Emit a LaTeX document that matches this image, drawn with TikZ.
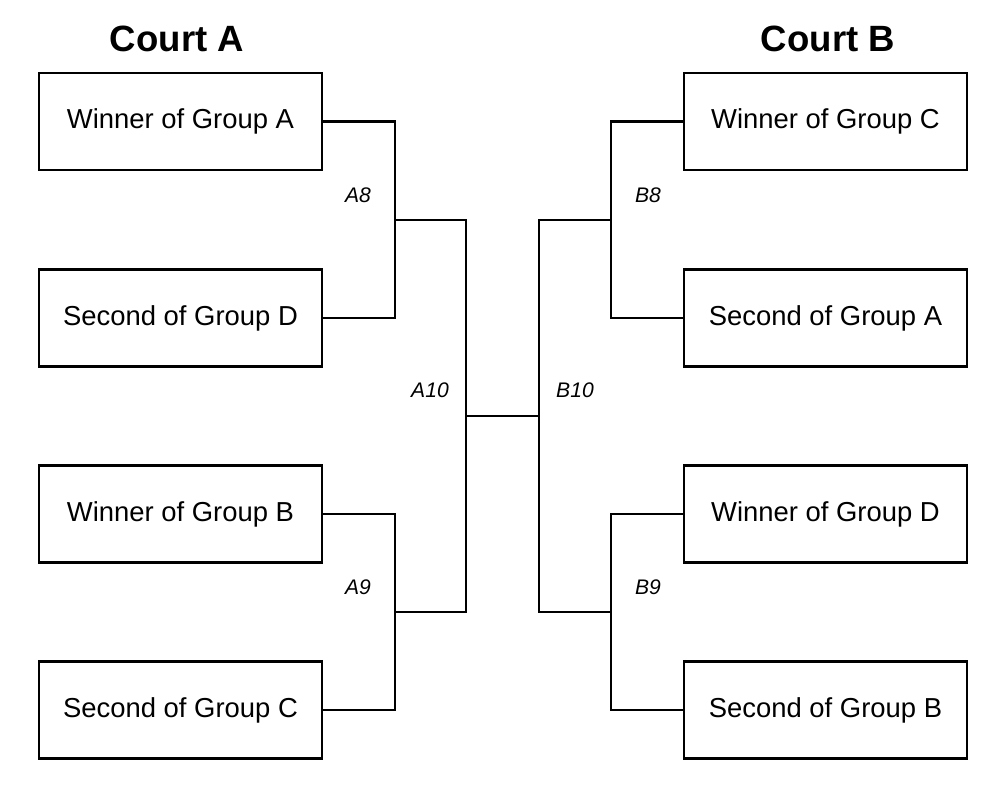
\documentclass[tikz,border=0pt]{standalone}
\usepackage{fontspec}
\setmainfont{Liberation Sans}
\usetikzlibrary{positioning}

\tikzset{
  team/.style={draw, line width=2pt, minimum width=7.075cm, minimum height=2.425cm,
    inner sep=0pt, font=\fontsize{19.5}{23}\selectfont},
  court/.style={font=\fontsize{26}{31}\selectfont\bfseries},
  match/.style={font=\fontsize{15}{18}\selectfont\itshape},
  wire/.style={line width=1.9pt}
}

\begin{document}
\begin{tikzpicture}[x=0.025cm, y=-0.025cm]
  \useasboundingbox (0,0) rectangle (1000,800);

  % headings
  \node[court] (ca) at (177,39) {Court A};
  \node[court] (cb) at (828,39) {Court B};

  % court A teams
  \node[team] (wa) at (180.5,121.5) {Winner of Group A};
  \node[team] (sd) at (180.5,318) {Second of Group D};
  \node[team] (wb) at (180.5,514) {Winner of Group B};
  \node[team] (sc) at (180.5,710) {Second of Group C};

  % court B teams
  \node[team] (wc) at (825.5,121.5) {Winner of Group C};
  \node[team] (sa) at (825.5,318) {Second of Group A};
  \node[team] (wd) at (825.5,514) {Winner of Group D};
  \node[team] (sb) at (825.5,710) {Second of Group B};

  % bracket joints
  \coordinate (a8) at (395,220);
  \coordinate (a9) at (395,612);
  \coordinate (a10) at (466,416);
  \coordinate (b8) at (611,220);
  \coordinate (b9) at (611,612);
  \coordinate (b10) at (539,416);

  \draw[wire] (wa.east) -| (a8);
  \draw[wire] (sd.east) -| (a8);
  \draw[wire] (wb.east) -| (a9);
  \draw[wire] (sc.east) -| (a9);
  \draw[wire] (a8) -| (a10);
  \draw[wire] (a9) -| (a10);
  \draw[wire] (a10) -- (b10);
  \draw[wire] (b8) -| (b10);
  \draw[wire] (b9) -| (b10);
  \draw[wire] (wc.west) -| (b8);
  \draw[wire] (sa.west) -| (b8);
  \draw[wire] (wd.west) -| (b9);
  \draw[wire] (sb.west) -| (b9);

  % match labels
  \node[match] (la8) at (358,195) {A8};
  \node[match] (la9) at (358,587) {A9};
  \node[match] (la10) at (430,390) {A10};
  \node[match] (lb8) at (648,195) {B8};
  \node[match] (lb9) at (648,587) {B9};
  \node[match] (lb10) at (575,390) {B10};
\end{tikzpicture}
\end{document}
